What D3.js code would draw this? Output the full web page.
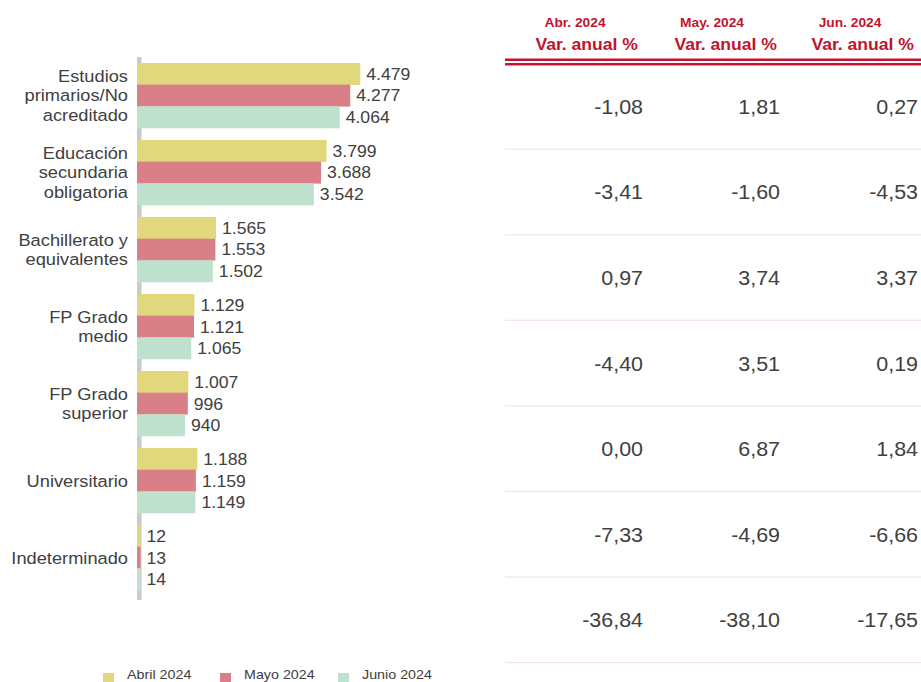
<!DOCTYPE html>
<html><head><meta charset="utf-8">
<script src="https://cdn.jsdelivr.net/npm/d3@7"></script>
<style>
html,body{margin:0;padding:0;background:#fff;}
svg{display:block;font-family:"Liberation Sans",Arial,sans-serif;}
</style></head>
<body>
<svg id="chart" width="921" height="682"></svg>
<script>
const categories = [
  ["Estudios","primarios/No","acreditado"],
  ["Educación","secundaria","obligatoria"],
  ["Bachillerato y","equivalentes"],
  ["FP Grado","medio"],
  ["FP Grado","superior"],
  ["Universitario"],
  ["Indeterminado"]
];
const seriesNames = ["Abril 2024","Mayo 2024","Junio 2024"];
const abril = [4479, 3799, 1565, 1129, 1007, 1188, 12];
const mayo  = [4277, 3688, 1553, 1121, 996, 1159, 13];
const junio = [4064, 3542, 1502, 1065, 940, 1149, 14];
const colors = ["#e1d77c","#d97f88","#bfe2cf"];

const tableMonths = ["Abr. 2024","May. 2024","Jun. 2024"];
const tableSub = "Var. anual %";
const varAbr = ["-1,08","-3,41","0,97","-4,40","0,00","-7,33","-36,84"];
const varMay = ["1,81","-1,60","3,74","3,51","6,87","-4,69","-38,10"];
const varJun = ["0,27","-4,53","3,37","0,19","1,84","-6,66","-17,65"];

const svg = d3.select("#chart");
const SX = 1.1;
const txtCol = "#404040";
function stext(g, x, y, str, opts) {
  const t = g.append("text")
    .attr("transform", `translate(${x},${y}) scale(${SX},1)`)
    .attr("text-anchor", opts.anchor || "start")
    .attr("font-size", opts.size)
    .attr("fill", opts.fill || txtCol)
    .text(str);
  if (opts.weight) t.attr("font-weight", opts.weight);
  return t;
}

// ---------- Bar chart ----------
const series = [abril, mayo, junio];
const y = d3.scaleBand().domain(d3.range(categories.length))
  .range([56.5, 596.5]).paddingInner(12/77).paddingOuter(0.084);
const ySub = d3.scaleBand().domain(d3.range(3)).range([0, y.bandwidth()]);
const x = d3.scaleLinear().domain([0, 4500]).range([138.5, 361.3]);

const chart = svg.append("g");
// axis line
chart.append("rect").attr("x", 137).attr("y", 57).attr("width", 4.5).attr("height", 543).attr("fill", "#c9c9c9");

categories.forEach((lines, i) => {
  const y0 = y(i);
  series.forEach((s, k) => {
    const v = s[i];
    const by = y0 + ySub(k);
    const w = Math.max(x(v) - 137, 3.5);
    chart.append("rect").attr("x", 137).attr("y", by).attr("width", w)
      .attr("height", ySub.bandwidth() + 0.3).attr("fill", colors[k]);
    stext(chart, 137 + w + 6, by + ySub.bandwidth()/2 + 6, d3.format(",")(v).replace(/,/g, "."), {size: 16});
  });
  const cy = y0 + y.bandwidth()/2;
  const lh = 19.3;
  lines.forEach((ln, j) => {
    const yy = cy + (j - (lines.length - 1)/2) * lh + 6;
    stext(chart, 128, yy, ln, {size: 16.6, anchor: "end"});
  });
});

// legend
const legX = [103, 220, 338];
seriesNames.forEach((n, k) => {
  svg.append("rect").attr("x", legX[k]).attr("y", 673).attr("width", 11).attr("height", 10).attr("fill", colors[k]);
  stext(svg, legX[k] + 24, 679, n, {size: 13});
});

// ---------- Table ----------
const cols = [varAbr, varMay, varJun];
const colRight = [643, 780, 918];
const hdrColor = "#c0142c";
const subRight = [638, 777, 914];
const monCenter = [575, 712, 850];
tableMonths.forEach((m, c) => {
  stext(svg, monCenter[c], 27, m, {size: 12.5, weight: "bold", anchor: "middle", fill: hdrColor});
  stext(svg, subRight[c], 50, tableSub, {size: 16, weight: "bold", anchor: "end", fill: hdrColor});
});
svg.append("rect").attr("x", 505).attr("y", 58.5).attr("width", 416).attr("height", 2.5).attr("fill", "#c41230");
svg.append("rect").attr("x", 505).attr("y", 63).attr("width", 416).attr("height", 2.5).attr("fill", "#c41230");

const rowY = d3.scaleBand().domain(d3.range(varAbr.length)).range([63.5, 662.5]);
varAbr.forEach((_, r) => {
  svg.append("rect").attr("x", 505).attr("y", rowY(r) + rowY.bandwidth() - 0.5)
    .attr("width", 416).attr("height", 1.3).attr("fill", "#f6e6e3");
  cols.forEach((col, c) => {
    stext(svg, colRight[c], rowY(r) + rowY.bandwidth()/2 + 7.5, col[r], {size: 19.5, anchor: "end"});
  });
});
</script>
</body></html>
